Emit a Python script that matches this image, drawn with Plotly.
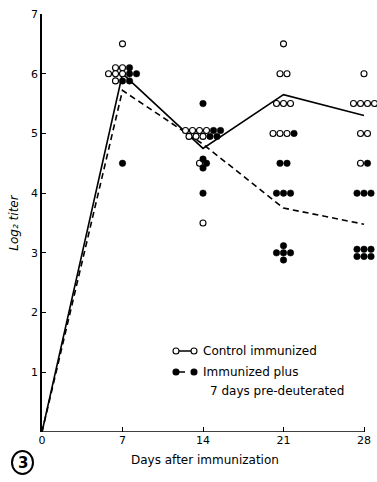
import plotly.graph_objects as go

# ---- data ----
days = [0, 7, 14, 21, 28]
tick_labels = ["0", "7", "14", "21", "28"]
y_ticks = [1, 2, 3, 4, 5, 6, 7]
y_tick_labels = ["1", "2", "3", "4", "5", "6", "7"]

control_mean = [0, 6.0, 4.75, 5.65, 5.3]
deut_mean = [0, 5.72, 4.82, 3.75, 3.48]

control_d7 = [6.5, 6.1, 6.1, 6.0, 6.0, 6.0, 5.88]
deut_d7 = [6.1, 6.0, 6.0, 5.88, 5.88, 4.5]
control_d14 = [5.05, 5.05, 5.05, 5.05, 4.95, 4.95, 4.95, 4.5, 3.5]
deut_d14 = [5.5, 5.05, 5.05, 4.95, 4.95, 4.57, 4.5, 4.42, 4.0]
control_d21 = [6.5, 6.0, 6.0, 5.5, 5.5, 5.5, 5.0, 5.0, 5.0]
deut_d21 = [5.0, 4.5, 4.5, 4.0, 4.0, 4.0, 3.12, 3.0, 3.0, 3.0, 2.88]
control_d28 = [6.0, 5.5, 5.5, 5.5, 5.5, 5.0, 5.0, 4.5]
deut_d28 = [4.5, 4.0, 4.0, 4.0, 3.06, 3.06, 3.06, 2.94, 2.94, 2.94]

control_pts = {7: control_d7, 14: control_d14, 21: control_d21, 28: control_d28}
deut_pts = {7: deut_d7, 14: deut_d14, 21: deut_d21, 28: deut_d28}

# ---- geometry ----
W, H = 377, 482
ML, MT, MB = 42, 14, 50
X_END_PX = 364                      # pixel where day 28 sits
PPD = (X_END_PX - ML) / 28.0        # pixels per day
PW, PH = W - ML, H - MT - MB
XR = [0, PW / PPD]                  # extend the range to the figure edge so edge dots stay visible
YR = [0, 7]
step_days = 7.0 / PPD               # 7 px between neighbouring dots


def spread(day, ctrl, deut):
    """Place equal values side by side, open circles first, centred on the day."""
    items = [(v, "c") for v in ctrl] + [(v, "d") for v in deut]
    rows = {}
    for v, k in items:
        rows.setdefault(v, []).append(k)
    out = {"c": ([], []), "d": ([], [])}
    for v, ks in rows.items():
        n = len(ks)
        for i, k in enumerate(ks):
            out[k][0].append(day + (i - (n - 1) / 2) * step_days)
            out[k][1].append(v)
    return out


cx, cy, dx, dy = [], [], [], []
for d in [7, 14, 21, 28]:
    o = spread(d, control_pts[d], deut_pts[d])
    cx += o["c"][0]; cy += o["c"][1]
    dx += o["d"][0]; dy += o["d"][1]

FONT = "DejaVu Sans"
fig = go.Figure()
fig.add_trace(go.Scatter(x=days, y=control_mean, mode="lines",
                         line=dict(color="black", width=1.6), showlegend=False))
fig.add_trace(go.Scatter(x=days, y=deut_mean, mode="lines",
                         line=dict(color="black", width=1.6, dash="6px,4px"), showlegend=False))
fig.add_trace(go.Scatter(x=cx, y=cy, mode="markers", cliponaxis=False, showlegend=False,
                         marker=dict(size=6, color="white", line=dict(color="black", width=1.1))))
fig.add_trace(go.Scatter(x=dx, y=dy, mode="markers", cliponaxis=False, showlegend=False,
                         marker=dict(size=6.5, color="black", line=dict(color="black", width=0.5))))


def px(x):
    return (x - ML) / PW


def py(y):
    return (H - MB - y) / PH


shapes = []
annotations = []
# x axis line from day 0 to day 28 only
shapes.append(dict(type="line", xref="x", yref="y", x0=days[0], x1=days[-1], y0=0, y1=0,
                   line=dict(color="black", width=1.5), layer="above"))
# legend
lx0, lx1 = 176, 194
for yy, filled, dash in [(351, False, "solid"), (372, True, "dash")]:
    shapes.append(dict(type="line", xref="paper", yref="paper", x0=px(lx0), x1=px(lx1),
                       y0=py(yy), y1=py(yy), line=dict(color="black", width=1.5, dash=dash)))
    for xx in (lx0, lx1):
        shapes.append(dict(type="circle", xref="paper", yref="paper",
                           x0=px(xx - 3), x1=px(xx + 3), y0=py(yy + 3), y1=py(yy - 3),
                           fillcolor="black" if filled else "white",
                           line=dict(color="black", width=1.1)))
for txt, xx, yy in [("Control immunized", 201, 351), ("Immunized plus", 201, 372),
                    ("7 days pre-deuterated", 208, 391)]:
    annotations.append(dict(text=txt, xref="paper", yref="paper", x=px(xx), y=py(yy),
                            xanchor="left", yanchor="middle", showarrow=False,
                            font=dict(family=FONT, size=12, color="black")))
# x axis title centred under the day axis
annotations.append(dict(text="Days after immunization", xref="paper", yref="paper",
                        x=px(205), y=py(460), xanchor="center", yanchor="middle",
                        showarrow=False, font=dict(family=FONT, size=12, color="black")))
# figure number
shapes.append(dict(type="circle", xref="paper", yref="paper", x0=px(12), x1=px(33),
                   y0=py(474), y1=py(451), line=dict(color="black", width=2)))
annotations.append(dict(text="<b>3</b>", xref="paper", yref="paper", x=px(22.5), y=py(462.5),
                        xanchor="center", yanchor="middle", showarrow=False,
                        font=dict(family=FONT, size=15, color="black")))

fig.update_layout(
    width=W, height=H, autosize=False,
    margin=dict(l=ML, r=0, t=MT, b=MB, pad=0, autoexpand=False),
    paper_bgcolor="white", plot_bgcolor="white",
    shapes=shapes, annotations=annotations,
    font=dict(family=FONT, color="black", size=11),
    xaxis=dict(range=XR, tickvals=days, ticktext=tick_labels, ticks="inside", ticklen=5,
               tickcolor="black", showline=False,
               showgrid=False, zeroline=False, tickfont=dict(size=11), automargin=False),
    yaxis=dict(range=YR, tickvals=y_ticks, ticktext=y_tick_labels, ticks="inside", ticklen=4,
               tickcolor="black", showline=True, linecolor="black", linewidth=1.5,
               showgrid=False, zeroline=False, tickfont=dict(size=11), automargin=False,
               title=dict(text="<i>Log₂ titer</i>", font=dict(size=12), standoff=10)),
)

fig.write_html("out.html", config={"displayModeBar": False},
               post_script="document.body.style.margin='0';document.body.style.overflow='hidden';")
